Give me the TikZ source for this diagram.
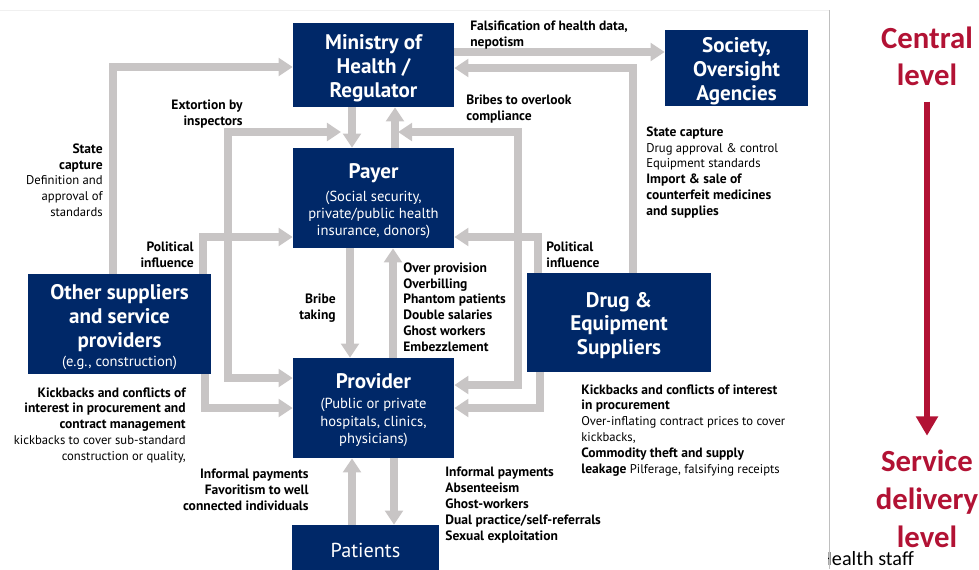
\documentclass[tikz,border=0pt]{standalone}
\usepackage{fontspec}
\setmainfont{PT Sans}
\newfontfamily\lvlfont{Carlito}
\usetikzlibrary{arrows.meta}

\definecolor{navy}{RGB}{0,40,104}
\definecolor{arrgray}{RGB}{200,197,197}
\definecolor{lvlred}{RGB}{178,18,52}

\newcommand{\bxf}{\fontsize{12}{13.6}\selectfont\bfseries}
\newcommand{\sbf}{\fontsize{8.3}{9.8}\selectfont\mdseries}
\newcommand{\lbf}{\fontsize{7.7}{9.1}\selectfont\bfseries}
\newcommand{\regtxt}[1]{{\fontsize{7.2}{9.1}\selectfont\mdseries #1}}
\newcommand{\topgap}[1]{\rule{0pt}{#1}}

\begin{document}
\begin{tikzpicture}[x=0.02cm, y=-0.02cm,
  box/.style={fill=navy, text=white, align=center, inner sep=0pt},
  garrow/.style={draw=arrgray, line width=4pt, -{Triangle[width=10pt,length=8pt]}},
  gboth/.style={draw=arrgray, line width=4pt, {Triangle[width=10pt,length=8pt]}-{Triangle[width=10pt,length=8pt]}},
  lab/.style={font=\lbf, inner sep=0pt}]
\useasboundingbox (0,0) rectangle (979,569);
%\draw[very thin,color=gray] (0,0) grid[step=50] (979,569);
\draw[gray!12, line width=0.5pt] (0,10) -- (829,10);

% boxes
\node[box, minimum width=3.22cm, minimum height=1.68cm, font=\bxf] (min) at (373.5,65) {\topgap{12pt}Ministry of\\Health /\\Regulator};
\node[box, minimum width=2.86cm, minimum height=1.52cm, font=\bxf] (soc) at (736.5,68) {\topgap{12pt}Society,\\Oversight\\Agencies};
\node[box, minimum width=3.22cm, minimum height=2cm, font=\sbf] (pay) at (373.5,198) {{\bxf\topgap{12pt}Payer}\\[3.5pt](Social security,\\private/public health\\insurance, donors)};
\node[box, minimum width=3.66cm, minimum height=2cm, font=\bxf] (oth) at (119.5,324) {\topgap{12pt}Other suppliers\\and service\\providers\\[-2.8pt]{\sbf (e.g., construction)}};
\node[box, minimum width=3.68cm, minimum height=1.98cm, font=\bxf] (drug) at (619,322.5) {\topgap{12pt}Drug \&\\Equipment\\Suppliers};
\node[box, minimum width=3.22cm, minimum height=2cm, font=\sbf] (prov) at (373.5,408) {{\bxf\topgap{11pt}Provider}\\[1.6pt](Public or private\\hospitals, clinics,\\physicians)};
\node[box, minimum width=2.94cm, minimum height=1cm, font=\fontsize{11.5}{13}\selectfont] (pat) at (365.5,550) {Patients};

% free ends that touch other arrows
\coordinate (ext) at (341,132);
\coordinate (brb) at (398,132);

% arrows
\draw[garrow] (min.east |- 0,52) -- (soc.west |- 0,52);
\draw[garrow] (drug.north -| 633,0) |- (min.east |- 0,68);
\draw[garrow] (oth.north -| 113,0) |- (min.west |- 0,67);
\draw[garrow] (oth.north -| 203,0) |- (pay.west |- 0,237);
\draw[garrow] (drug.north -| 538,0) |- (pay.east |- 0,237);
\draw[garrow] (min.south -| 352,0) -- (pay.north -| 352,0);
\draw[garrow] (pay.north -| 395,0) -- (min.south -| 395,0);
\draw[garrow] (pay.south -| 350,0) -- (prov.north -| 350,0);
\draw[garrow] (prov.north -| 393,0) -- (pay.south -| 393,0);
\draw[gboth] (ext) -| (228,378) -- (prov.west |- 0,378);
\draw[gboth] (brb) -| (518,385) -- (prov.east |- 0,385);
\draw[garrow] (oth.south -| 205,0) |- (prov.west |- 0,408);
\draw[garrow] (drug.south -| 540,0) |- (prov.east |- 0,408);
\draw[garrow] (pat.north -| 352,0) -- (prov.south -| 352,0);
\draw[garrow] (prov.south -| 394,0) -- (pat.north -| 394,0);

% labels
\node[lab, anchor=north west, align=left] (fal) at (470,21) {Falsification of health data,\\nepotism};
\node[lab, anchor=north west, align=left] (bol) at (466,95) {Bribes to overlook\\compliance};
\node[lab, anchor=north east, align=right] (exl) at (243,100) {Extortion by\\inspectors};
\node[lab, anchor=north east, align=right] (scl) at (103,143) {State\\capture\\\regtxt{Definition and}\\\regtxt{approval of}\\\regtxt{standards}};
\node[lab, anchor=north east, align=right] (pil) at (194,242) {Political\\influence};
\node[lab, anchor=north west, align=left] (pir) at (546,242) {Political\\influence};
\node[lab, anchor=north west, align=left] (scr) at (646,126) {State capture\\\regtxt{Drug approval \& control}\\\regtxt{Equipment standards}\\Import \& sale of\\counterfeit medicines\\and supplies};
\node[lab, anchor=north east, align=right] (btl) at (336,294) {Bribe\\taking};
\node[lab, anchor=north west, align=left] (ovl) at (403,262) {Over provision\\Overbilling\\Phantom patients\\Double salaries\\Ghost workers\\Embezzlement};
\node[lab, anchor=north east, align=right] (kbl) at (186,387) {Kickbacks and conflicts of\\interest in procurement and\\contract management\\\regtxt{kickbacks to cover sub-standard}\\\regtxt{construction or quality,}};
\node[lab, anchor=north west, align=left] (kbr) at (581,384) {Kickbacks and conflicts of interest\\in procurement\\\regtxt{Over-inflating contract prices to cover}\\\regtxt{kickbacks,}\\Commodity theft and supply\\leakage \regtxt{Pilferage, falsifying receipts}};
\node[lab, anchor=north east, align=right] (ipl) at (309,469) {Informal payments\\Favoritism to well\\connected individuals};
\node[lab, anchor=north west, align=left] (ipr) at (445,467) {Informal payments\\Absenteeism\\Ghost-workers\\Dual practice/self-referrals\\Sexual exploitation};

% levels
\node[font=\lvlfont\bfseries\fontsize{17.5}{21}\selectfont, text=lvlred, align=center, inner sep=0pt] (cen) at (927,56) {Central\\level};
\node[font=\lvlfont\bfseries\fontsize{17.5}{21.6}\selectfont, text=lvlred, align=center, inner sep=0pt] (svc) at (927,499) {Service\\delivery\\level};
\draw[lvlred, line width=3.8pt, -{Triangle[width=12pt,length=11pt]}] ([yshift=-9pt]cen.south) -- ([yshift=8pt]svc.north);

\begin{scope}
\clip (828,530) rectangle (979,569);
\node[font=\lvlfont\fontsize{11.5}{13}\selectfont, anchor=base west, inner sep=0pt] (hst) at (819,565) {Health staff};
\end{scope}
\draw[gray!50, line width=0.5pt] (829,10) -- (829,569);
\end{tikzpicture}
\end{document}
